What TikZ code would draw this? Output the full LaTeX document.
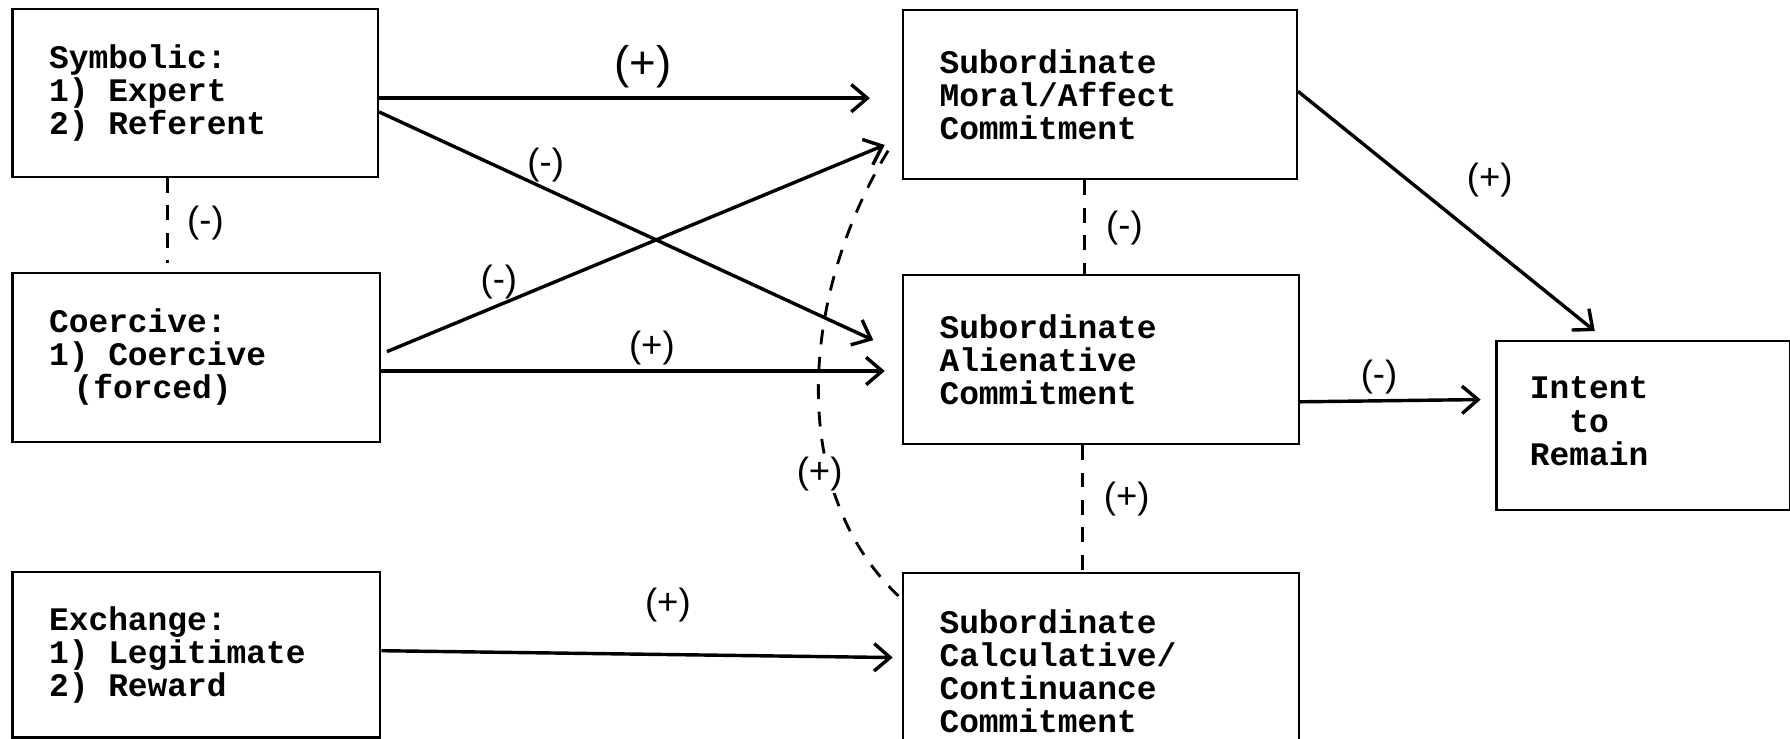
\documentclass[tikz,border=0pt]{standalone}
\usepackage{fontspec}
\setmainfont{Liberation Sans}
\newfontfamily\boxfont{Liberation Mono}
\newcommand\msp{\hspace*{0.6em}}
\usetikzlibrary{arrows.meta,calc}
\begin{document}
\begin{tikzpicture}[x=1pt,y=-1pt,
  box/.style={draw, line width=2pt, anchor=north west, inner ysep=0pt, inner xsep=32pt,
    align=left, font=\boxfont\bfseries\fontsize{28.8}{29}\selectfont},
  boxtext/.style={inner sep=0pt, font=\boxfont\bfseries\fontsize{28.8}{29}\selectfont},
  conn/.style={line width=3pt, -{Straight Barb[length=14pt,width=24pt,line width=3pt]}},
  rel/.style={line width=2.5pt, dash pattern=on 13pt off 11pt},
  lbl/.style={inner sep=0pt, font=\fontsize{32}{32}\selectfont},
  biglbl/.style={inner sep=0pt, font=\fontsize{40}{40}\selectfont}]
\useasboundingbox (0,0) rectangle (1568,647);
\clip (0,0) rectangle (1568,647);

% left column
\node[box, minimum width=320pt, minimum height=147pt, text width=256pt] (sym) at (10,7)
  {Symbolic:\\1)\msp Expert\\2)\msp Referent};
\node[box, minimum width=322pt, minimum height=148pt, text width=258pt] (coer) at (10,238)
  {Coercive:\\1)\msp Coercive\\\hspace*{0.75em}(forced)};
\node[box, minimum width=322pt, minimum height=145pt, text width=258pt] (exch) at (10,500)
  {Exchange:\\1)\msp Legitimate\\2)\msp Reward};

% middle column
\node[box, minimum width=345pt, minimum height=148pt, text width=281pt] (moral) at (790,8)
  {Subordinate\\Moral/Affect\\Commitment};
\node[box, minimum width=347pt, minimum height=148pt, text width=283pt] (alien) at (790,240)
  {Subordinate\\Alienative\\Commitment};
\node[box, minimum width=347pt, minimum height=172pt, text width=283pt] (calc) at (790,501)
  {Subordinate\\Calculative/\\Continuance\\Commitment};

% right
\node[draw, line width=2pt, anchor=north west, minimum width=257pt, minimum height=148pt, inner sep=0pt] (intent) at (1310,298) {};
\node[boxtext, align=center] (intenttext) at (1392,369) {Intent\\to\\Remain};

% solid arrows
\draw[conn] ($(sym.north east)+(0,79)$) -- ($(moral.north west)+(-28,78)$)
  node[biglbl] at (563,58) {(+)};
\draw[conn] ($(sym.north east)+(0,91)$) -- ($(alien.north west)+(-25,58)$)
  node[lbl] at (478,145) {(-)};
\draw[conn] ($(coer.north east)+(5,70)$) -- ($(moral.north west)+(-15,119)$)
  node[lbl] at (437,247) {(-)};
\draw[conn] ($(coer.north east)+(0,87)$) -- ($(alien.north west)+(-15,85)$)
  node[lbl] at (571,305) {(+)};
\draw[conn] ($(exch.north east)+(0,70)$) -- ($(calc.north west)+(-8,75)$)
  node[lbl] at (585,530) {(+)};
\draw[conn] ($(moral.north east)+(0,72)$) -- ($(intent.north west)+(87,-8)$)
  node[lbl] at (1305,158) {(+)};
\draw[conn] ($(alien.north east)+(-2,112)$) -- ($(intent.north west)+(-13,52)$)
  node[lbl] at (1208,330) {(-)};

% dashed relations
\draw[rel] ($(sym.south west)+(137,0)$) -- ($(coer.north west)+(137,-8)$)
  node[lbl] at (180,195) {(-)};
\draw[rel] ($(moral.south west)+(160,0)$) -- ($(alien.north west)+(160,0)$)
  node[lbl] at (985,200) {(-)};
\draw[rel] ($(alien.south west)+(158,0)$) -- ($(calc.north west)+(158,0)$)
  node[lbl] at (987,437) {(+)};
\draw[rel] ($(moral.south west)+(-12,-26)$) .. controls (700,260) and (690,430) .. ($(calc.north west)+(-3,21)$)
  node[lbl, fill=white, inner sep=2pt] at (718,415) {(+)};
\end{tikzpicture}
\end{document}
